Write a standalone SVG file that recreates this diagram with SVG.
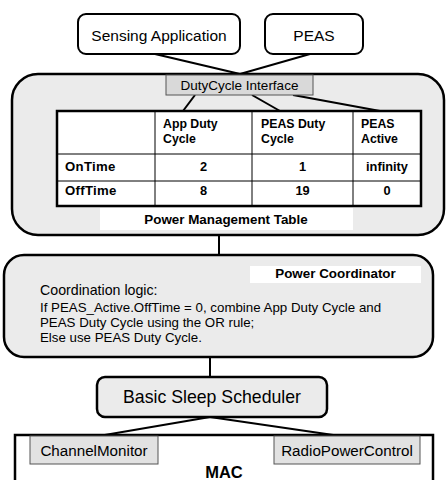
<svg xmlns="http://www.w3.org/2000/svg" width="447" height="480" viewBox="0 0 447 480">
  <style>
    text { font-family: "Liberation Sans", Arial, sans-serif; fill: #000; }
    .b { font-weight: bold; }
    .panel { fill: #ebebeb; stroke: #000; stroke-width: 2.5; }
    .white { fill: #fff; stroke: #000; stroke-width: 2; }
    .port { fill: #e2e2e2; stroke: #555; stroke-width: 1; }
    .wire { stroke: #000; stroke-width: 2; fill: none; }
    .grid { stroke: #000; stroke-width: 1; }
  </style>
  <rect width="447" height="480" fill="#fff"/>

  <!-- connectors -->
  <g id="connectors" class="wire">
    <line x1="155" y1="54" x2="240" y2="74"/>
    <line x1="310" y1="54" x2="240" y2="74"/>
    <line x1="219" y1="235" x2="219" y2="255"/>
    <line x1="210" y1="357" x2="210" y2="377"/>
  </g>

  <g id="sensing-application">
    <rect class="white" x="78" y="14" width="162" height="40" rx="8"/>
    <text x="159" y="40.5" font-size="15.5" text-anchor="middle">Sensing Application</text>
  </g>

  <g id="peas">
    <rect class="white" x="265" y="14" width="98" height="40" rx="8"/>
    <text x="314" y="40.5" font-size="15.5" text-anchor="middle">PEAS</text>
  </g>

  <g id="power-management">
    <rect class="panel" x="12" y="74" width="432" height="161" rx="26"/>
    <!-- links from the interface to the table columns -->
    <g class="wire">
      <line x1="195" y1="95" x2="183" y2="111"/>
      <line x1="252" y1="95" x2="280" y2="111"/>
      <line x1="293" y1="95" x2="380" y2="111"/>
    </g>
    <g id="dutycycle-interface">
      <rect x="166" y="75" width="147" height="20" fill="#d9d9d9" stroke="#555" stroke-width="1"/>
      <text x="239.5" y="90" font-size="13.5" text-anchor="middle">DutyCycle Interface</text>
    </g>
    <g id="table">
      <rect x="57" y="111" width="364" height="95" fill="#fff"/>
      <g class="grid">
        <line x1="57" y1="154" x2="421" y2="154"/>
        <line x1="57" y1="181" x2="421" y2="181"/>
        <line x1="155" y1="111" x2="155" y2="206"/>
        <line x1="252" y1="111" x2="252" y2="206"/>
        <line x1="353" y1="111" x2="353" y2="206"/>
      </g>
      <rect x="57" y="111" width="364" height="95" fill="none" stroke="#000" stroke-width="2.5"/>
      <g class="b" font-size="12.3">
        <text x="163" y="128">App Duty</text>
        <text x="163" y="143">Cycle</text>
        <text x="261" y="128">PEAS Duty</text>
        <text x="261" y="143">Cycle</text>
        <text x="361" y="128">PEAS</text>
        <text x="361" y="143">Active</text>
        <text x="65" y="171" font-size="13.2" letter-spacing="0.3">OnTime</text>
        <text x="65" y="195" font-size="13.2" letter-spacing="0.3">OffTime</text>
        <g text-anchor="middle" font-size="12.8">
          <text x="203.5" y="171">2</text>
          <text x="302.5" y="171">1</text>
          <text x="387" y="171">infinity</text>
          <text x="203.5" y="195">8</text>
          <text x="302.5" y="195">19</text>
          <text x="387" y="195">0</text>
        </g>
      </g>
    </g>
    <rect x="100" y="208" width="253" height="22" fill="#fff"/>
    <text class="b" x="226" y="224" font-size="13.4" text-anchor="middle">Power Management Table</text>
  </g>

  <g id="power-coordinator">
    <rect class="panel" x="4" y="255" width="429" height="102" rx="20"/>
    <rect x="250" y="266" width="171" height="17" fill="#fff"/>
    <text class="b" x="335.5" y="277.5" font-size="13.4" text-anchor="middle">Power Coordinator</text>
    <text x="40" y="295" font-size="14.2">Coordination logic:</text>
    <g font-size="13.3">
      <text x="40" y="312">If PEAS_Active.OffTime = 0, combine App Duty Cycle and</text>
      <text x="40" y="327">PEAS Duty Cycle using the OR rule;</text>
      <text x="40" y="342">Else use PEAS Duty Cycle.</text>
    </g>
  </g>

  <g id="basic-sleep-scheduler">
    <rect class="panel" x="97" y="377" width="230" height="40" rx="8"/>
    <text x="212" y="403" font-size="17.7" text-anchor="middle">Basic Sleep Scheduler</text>
  </g>

  <g id="mac">
    <rect x="15" y="435" width="418" height="60" fill="#fff" stroke="#000" stroke-width="2.5"/>
    <g class="wire">
      <line x1="210" y1="417" x2="93" y2="437"/>
      <line x1="210" y1="417" x2="347" y2="437"/>
    </g>
    <g id="channel-monitor">
      <rect class="port" x="30" y="436" width="128" height="28"/>
      <text x="94" y="456" font-size="15.2" text-anchor="middle">ChannelMonitor</text>
    </g>
    <g id="radio-power-control">
      <rect class="port" x="274" y="436" width="146" height="28"/>
      <text x="347" y="456" font-size="15.2" text-anchor="middle">RadioPowerControl</text>
    </g>
    <text class="b" x="224" y="478" font-size="16.5" text-anchor="middle">MAC</text>
  </g>
</svg>
